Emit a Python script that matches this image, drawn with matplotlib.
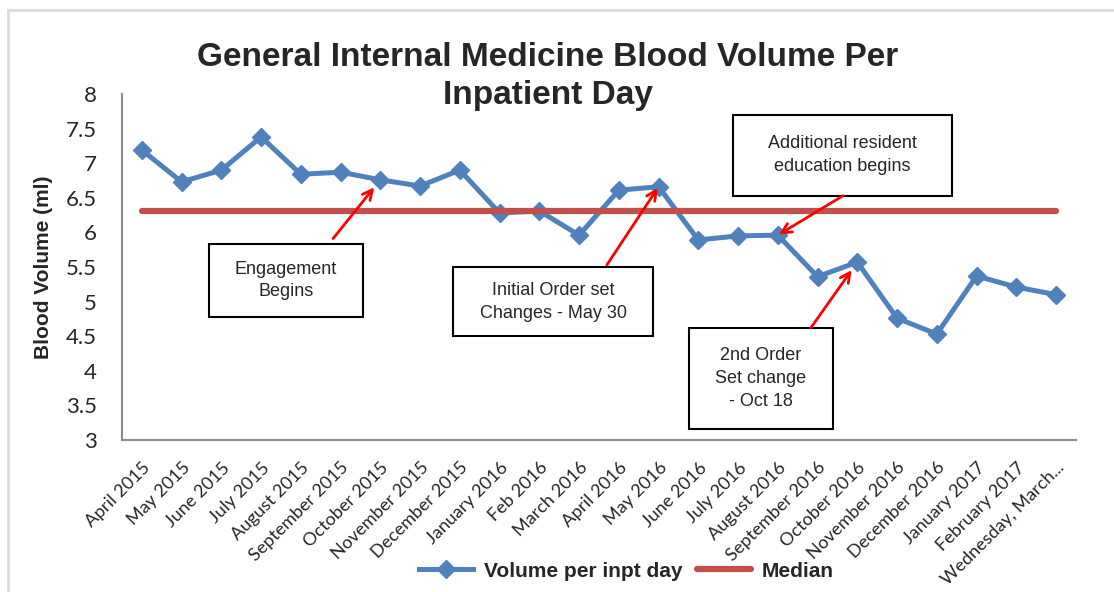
import matplotlib
matplotlib.use("Agg")
import matplotlib.pyplot as plt
from matplotlib.lines import Line2D
from matplotlib.patches import Rectangle

months = [
    "April 2015", "May 2015", "June 2015", "July 2015", "August 2015",
    "September 2015", "October 2015", "November 2015", "December 2015",
    "January 2016", "Feb 2016", "March 2016", "April 2016", "May 2016",
    "June 2016", "July 2016", "August 2016", "September 2016",
    "October 2016", "November 2016", "December 2016", "January 2017",
    "February 2017", "Wednesday, March...",
]
volume = [
    7.19, 6.73, 6.90, 7.38, 6.84, 6.87, 6.76, 6.67, 6.90,
    6.28, 6.31, 5.96, 6.61, 6.66, 5.89, 5.95, 5.96, 5.36,
    5.57, 4.76, 4.53, 5.37, 5.21, 5.10,
]
median_value = 6.31
y_ticks = [3, 3.5, 4, 4.5, 5, 5.5, 6, 6.5, 7, 7.5, 8]

# callouts: text, month the arrow points at, box (x0, x1, y0, y1) and arrow tail in data units
notes = [
    ("Engagement\nBegins", "October 2015", (1.69, 5.56, 4.78, 5.83), (4.81, 5.91), 7),
    ("Initial Order set\nChanges - May 30", "May 2016", (7.83, 12.86, 4.50, 5.50), (11.70, 5.53), 1),
    ("Additional resident\neducation begins", "August 2016", (14.87, 20.38, 6.53, 7.70), (17.64, 6.53), 1),
    ("2nd Order\nSet change\n- Oct 18", "October 2016", (13.76, 17.39, 3.16, 4.62), (16.83, 4.62), 7),
]

BLUE = "#4F81BD"
RED = "#C0504D"
TEXT = "#262626"

plt.rcParams["font.family"] = ["Liberation Sans", "DejaVu Sans"]

fig = plt.figure(figsize=(11.14, 5.92), dpi=100)
ax = fig.add_axes([0.1095, 0.2568, 0.8563, 0.5844])

ax.plot(months, volume, color=BLUE, lw=3.6, marker="D", ms=9.5,
        mec=BLUE, mew=1, label="Volume per inpt day", zorder=3)
ax.plot(months, [median_value] * len(months), color=RED, lw=4.5,
        solid_capstyle="round", label="Median", zorder=4)

ax.set_xlim(-0.5, len(months) - 0.5)
ax.set_ylim(3, 8)
ax.set_yticks(y_ticks)
ax.set_yticklabels([f"{t:g}" for t in y_ticks])
for side in ("top", "right"):
    ax.spines[side].set_visible(False)
for side in ("left", "bottom"):
    ax.spines[side].set_color("#8C8C8C")
    ax.spines[side].set_linewidth(1.5)

ax.tick_params(axis="y", length=0, pad=18, labelsize=16, labelcolor=TEXT)
ax.tick_params(axis="x", length=0, pad=14, labelsize=13, labelcolor=TEXT)
for lab in ax.get_yticklabels():
    lab.set_family("Lato")
for lab in ax.get_xticklabels():
    lab.set_family("Lato")
    lab.set_rotation(45)
    lab.set_ha("right")
    lab.set_va("top")
    lab.set_rotation_mode("anchor")

ax.set_ylabel("Blood Volume (ml)", fontsize=15, fontweight="bold",
              color=TEXT, labelpad=9)

for text, month, (x0, x1, y0, y1), tail, shrink in notes:
    i = months.index(month)
    ax.add_patch(Rectangle((x0, y0), x1 - x0, y1 - y0, facecolor="white",
                           edgecolor="black", lw=1.5, zorder=5))
    ax.text((x0 + x1) / 2, (y0 + y1) / 2, text, ha="center", va="center",
            fontsize=13, color=TEXT, linespacing=1.45, zorder=6)
    ax.annotate("", xy=(i, volume[i]), xytext=tail,
                arrowprops=dict(arrowstyle="->,head_length=0.7,head_width=0.35",
                                color="#FF0000", lw=2, shrinkA=0, shrinkB=shrink),
                zorder=6)

fig.text(0.492, 1 - 42 / 592, "General Internal Medicine Blood Volume Per\nInpatient Day",
         ha="center", va="top", fontsize=24, fontweight="bold", color=TEXT,
         linespacing=1.3)

fig.legend(loc="center", bbox_to_anchor=(0.562, 0.035), ncol=2, frameon=False,
           prop={"size": 15, "weight": "bold"}, handlelength=2.6,
           handletextpad=0.5, columnspacing=0.7, labelcolor=TEXT)

# light frame around the chart area
fig.add_artist(Line2D([8 / 1114, 8 / 1114], [0, 1 - 10 / 592], color="#DADADA", lw=2))
fig.add_artist(Line2D([8 / 1114, 1], [1 - 10 / 592, 1 - 10 / 592], color="#DADADA", lw=2))

fig.savefig("out.png", dpi=100)
